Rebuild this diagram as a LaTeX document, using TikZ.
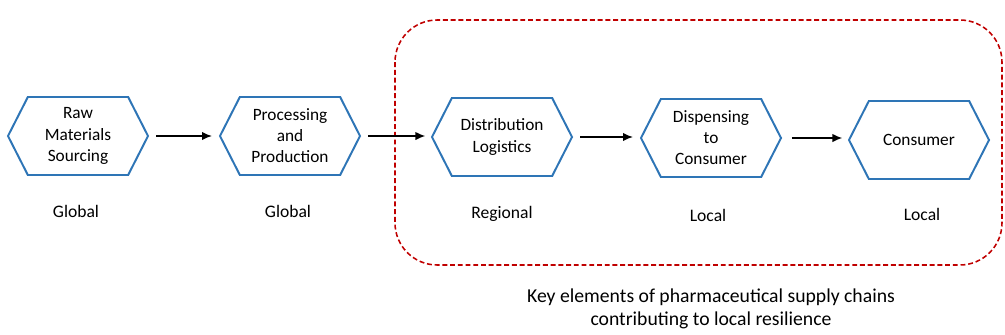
\documentclass[tikz,border=0pt]{standalone}
\usepackage{fontspec}
\setmainfont{Carlito}
\usetikzlibrary{shapes.symbols,arrows.meta}
\definecolor{stagecolor}{HTML}{2E75B6}
\definecolor{zonecolor}{HTML}{C00000}

\begin{document}
\begin{tikzpicture}[x=0.025cm, y=-0.025cm,
  stage/.style={shape=signal, signal to=west and east, signal pointer angle=126,
    draw=stagecolor, line width=1.4pt, minimum width=3.5cm, minimum height=1.95cm,
    inner sep=0pt, align=center, font=\fontsize{12.3}{15}\selectfont},
  tag/.style={font=\fontsize{12.5}{15}\selectfont},
  flow/.style={-{Latex[length=7pt,width=6pt]}, line width=1pt}]
  \useasboundingbox (0,0) rectangle (1005,335);
  % Region of local resilience
  \draw[zonecolor, dash pattern=on 3.5pt off 2pt, line width=1.1pt, rounded corners=30]
    (395,20) rectangle (1002,265);
  % Stages
  \node[stage] (raw)  at (78,136)  {Raw\\Materials\\Sourcing};
  \node[stage] (proc) at (290,136) {Processing\\and\\Production};
  \node[stage] (dist) at (502,137) {Distribution\\Logistics};
  \node[stage] (disp) at (711,138) {Dispensing\\to\\Consumer};
  \node[stage] (cons) at (919,140) {Consumer};
  % Scale labels
  \node[tag] (rawtag)  at (76,211)  {Global};
  \node[tag] (proctag) at (288,211) {Global};
  \node[tag] (disttag) at (502,214) {Regional};
  \node[tag] (disptag) at (708,215) {Local};
  \node[tag] (constag) at (922,214) {Local};
  % Arrows
  \draw[flow] ([xshift=5]raw.east) -- ([xshift=-5]raw.east -| proc.west);
  \draw[flow] ([xshift=5]proc.east) -- ([xshift=-4]proc.east -| dist.west);
  \draw[flow] ([xshift=5]dist.east) -- ([xshift=-5]dist.east -| disp.west);
  \draw[flow] ([xshift=7]disp.east) -- ([xshift=-4]disp.east -| cons.west);
  % Caption
  \node[align=center, font=\fontsize{14}{16}\selectfont] (note) at (711,309)
    {Key elements of pharmaceutical supply chains\\contributing to local resilience};
\end{tikzpicture}
\end{document}
